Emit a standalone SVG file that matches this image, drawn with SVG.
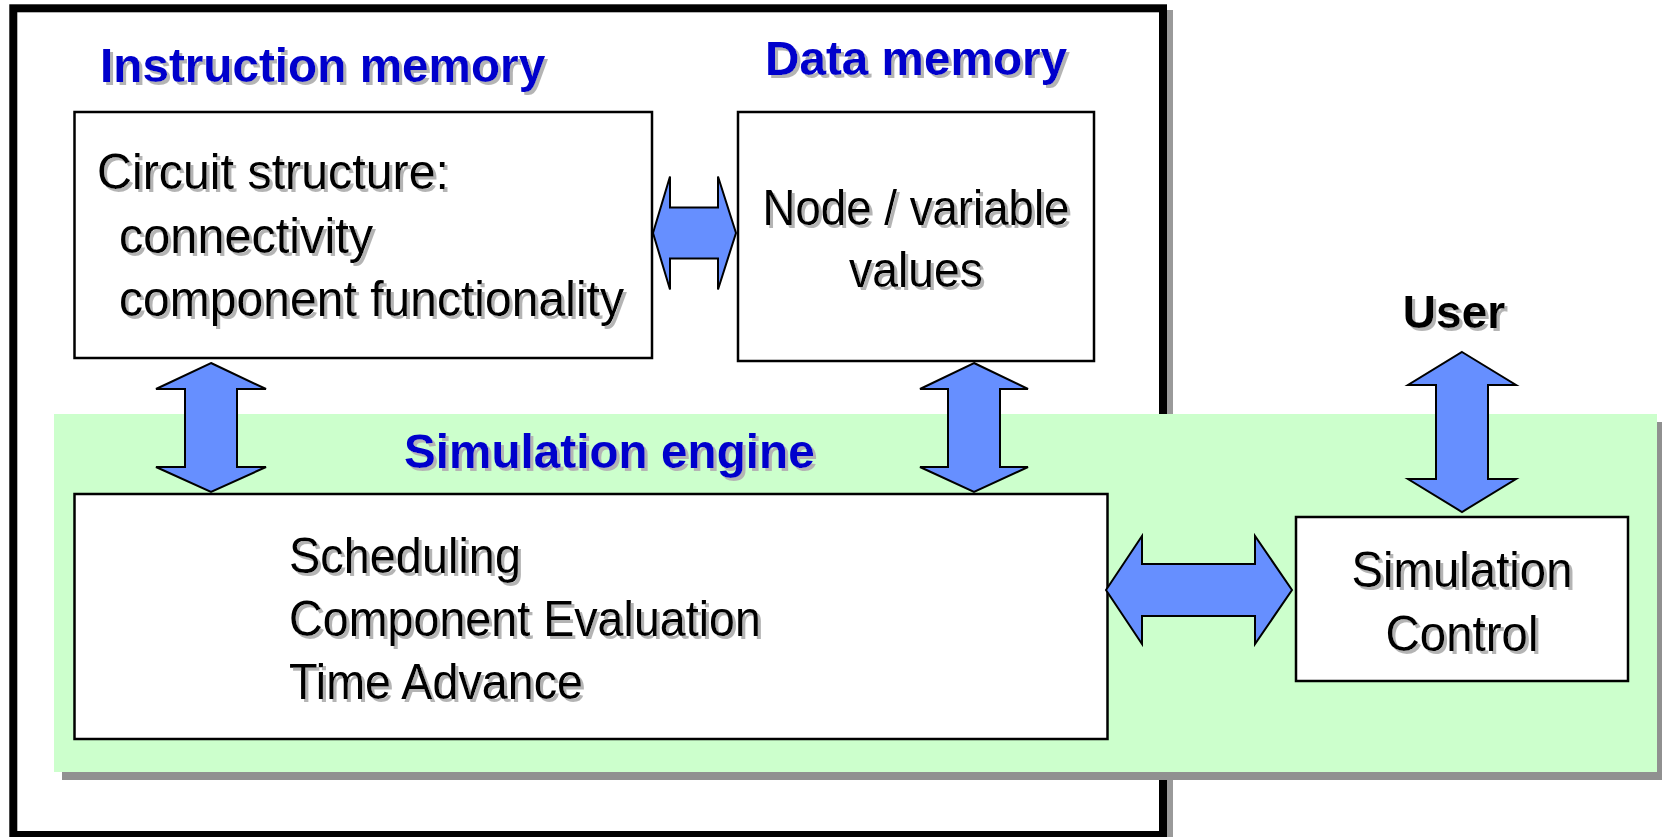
<svg xmlns="http://www.w3.org/2000/svg" width="1662" height="837" viewBox="0 0 1662 837">
  <defs>
    <filter id="txtShadow" x="-5%" y="-20%" width="115%" height="150%">
      <feFlood flood-color="#b4b4b4"/>
      <feComposite in2="SourceAlpha" operator="in"/>
      <feOffset dx="2.5" dy="2.5" result="sh"/>
      <feMerge>
        <feMergeNode in="sh"/>
        <feMergeNode in="SourceGraphic"/>
      </feMerge>
    </filter>
  </defs>
  <style>
    .title { font-family: "Liberation Sans", Arial, sans-serif; font-weight: bold; font-size: 47.7px; fill: #0000cc; filter: url(#txtShadow); }
    .label { font-family: "Liberation Sans", Arial, sans-serif; font-size: 50px; fill: #000000; filter: url(#txtShadow); }
    .user { font-family: "Liberation Sans", Arial, sans-serif; font-weight: bold; font-size: 46px; fill: #000000; filter: url(#txtShadow); }
    .box { fill: #ffffff; stroke: #000000; stroke-width: 2.5; }
    .arrow { fill: #668fff; stroke: #000000; stroke-width: 2; stroke-linejoin: miter; }
    .shadow { fill: #909090; }
  </style>

  <rect width="1662" height="837" fill="#ffffff"/>

  <!-- outer frame with drop shadow -->
  <g id="frame">
    <rect x="15" y="10" width="1158" height="840" fill="#9a9a9a"/>
    <rect x="13.3" y="8.3" width="1149.7" height="826.7" fill="#ffffff" stroke="#000000" stroke-width="8"/>
  </g>

  <!-- instruction memory -->
  <g id="instruction-memory">
    <text class="title" x="100" y="82">Instruction memory</text>
    <rect class="box" x="74.5" y="112" width="577.5" height="246"/>
    <text class="label" x="97" y="189" textLength="352" lengthAdjust="spacingAndGlyphs">Circuit structure:</text>
    <text class="label" x="119" y="252.5" textLength="254" lengthAdjust="spacingAndGlyphs">connectivity</text>
    <text class="label" x="119" y="316" textLength="505" lengthAdjust="spacingAndGlyphs">component functionality</text>
  </g>

  <!-- data memory -->
  <g id="data-memory">
    <text class="title" x="765" y="75">Data memory</text>
    <rect class="box" x="738" y="112" width="356" height="249"/>
    <text class="label" x="916" y="225" text-anchor="middle" textLength="307" lengthAdjust="spacingAndGlyphs">Node / variable</text>
    <text class="label" x="916" y="287" text-anchor="middle" textLength="134" lengthAdjust="spacingAndGlyphs">values</text>
  </g>

  <!-- simulation engine panel -->
  <g id="simulation-engine">
    <rect class="shadow" x="62" y="422" width="1603" height="358"/>
    <rect x="54" y="414" width="1603" height="358" fill="#ccffcc"/>
    <text class="title" x="404" y="468">Simulation engine</text>
    <rect class="box" x="74.5" y="494" width="1033" height="245"/>
    <text class="label" x="289" y="573" textLength="232" lengthAdjust="spacingAndGlyphs">Scheduling</text>
    <text class="label" x="289" y="636" textLength="472" lengthAdjust="spacingAndGlyphs">Component Evaluation</text>
    <text class="label" x="289" y="699" textLength="294" lengthAdjust="spacingAndGlyphs">Time Advance</text>
  </g>

  <!-- simulation control -->
  <g id="simulation-control">
    <rect class="box" x="1296" y="517" width="332" height="164"/>
    <text class="label" x="1462" y="587" text-anchor="middle" textLength="221" lengthAdjust="spacingAndGlyphs">Simulation</text>
    <text class="label" x="1462" y="651" text-anchor="middle" textLength="153" lengthAdjust="spacingAndGlyphs">Control</text>
  </g>

  <!-- user -->
  <g id="user">
    <text class="user" x="1454" y="328" text-anchor="middle">User</text>
  </g>

  <!-- block arrows -->
  <g id="connectors">
    <polygon class="arrow" points="653,233 670,176.5 670,207.5 718,207.5 718,176.5 736,233 718,289.5 718,258.5 670,258.5 670,289.5"/>
    <polygon class="arrow" points="211,363 266,389 237,389 237,467 266,467 211,492 156,467 185,467 185,389 156,389"/>
    <polygon class="arrow" points="974,363 1028,389 1000,389 1000,467 1028,467 974,492 920,467 948,467 948,389 920,389"/>
    <polygon class="arrow" points="1462,352 1516,385 1488,385 1488,479 1516,479 1462,512 1408,479 1436,479 1436,385 1408,385"/>
    <polygon class="arrow" points="1106,590 1142,536 1142,564 1255,564 1255,536 1292,590 1255,644 1255,616 1142,616 1142,644"/>
  </g>
</svg>
